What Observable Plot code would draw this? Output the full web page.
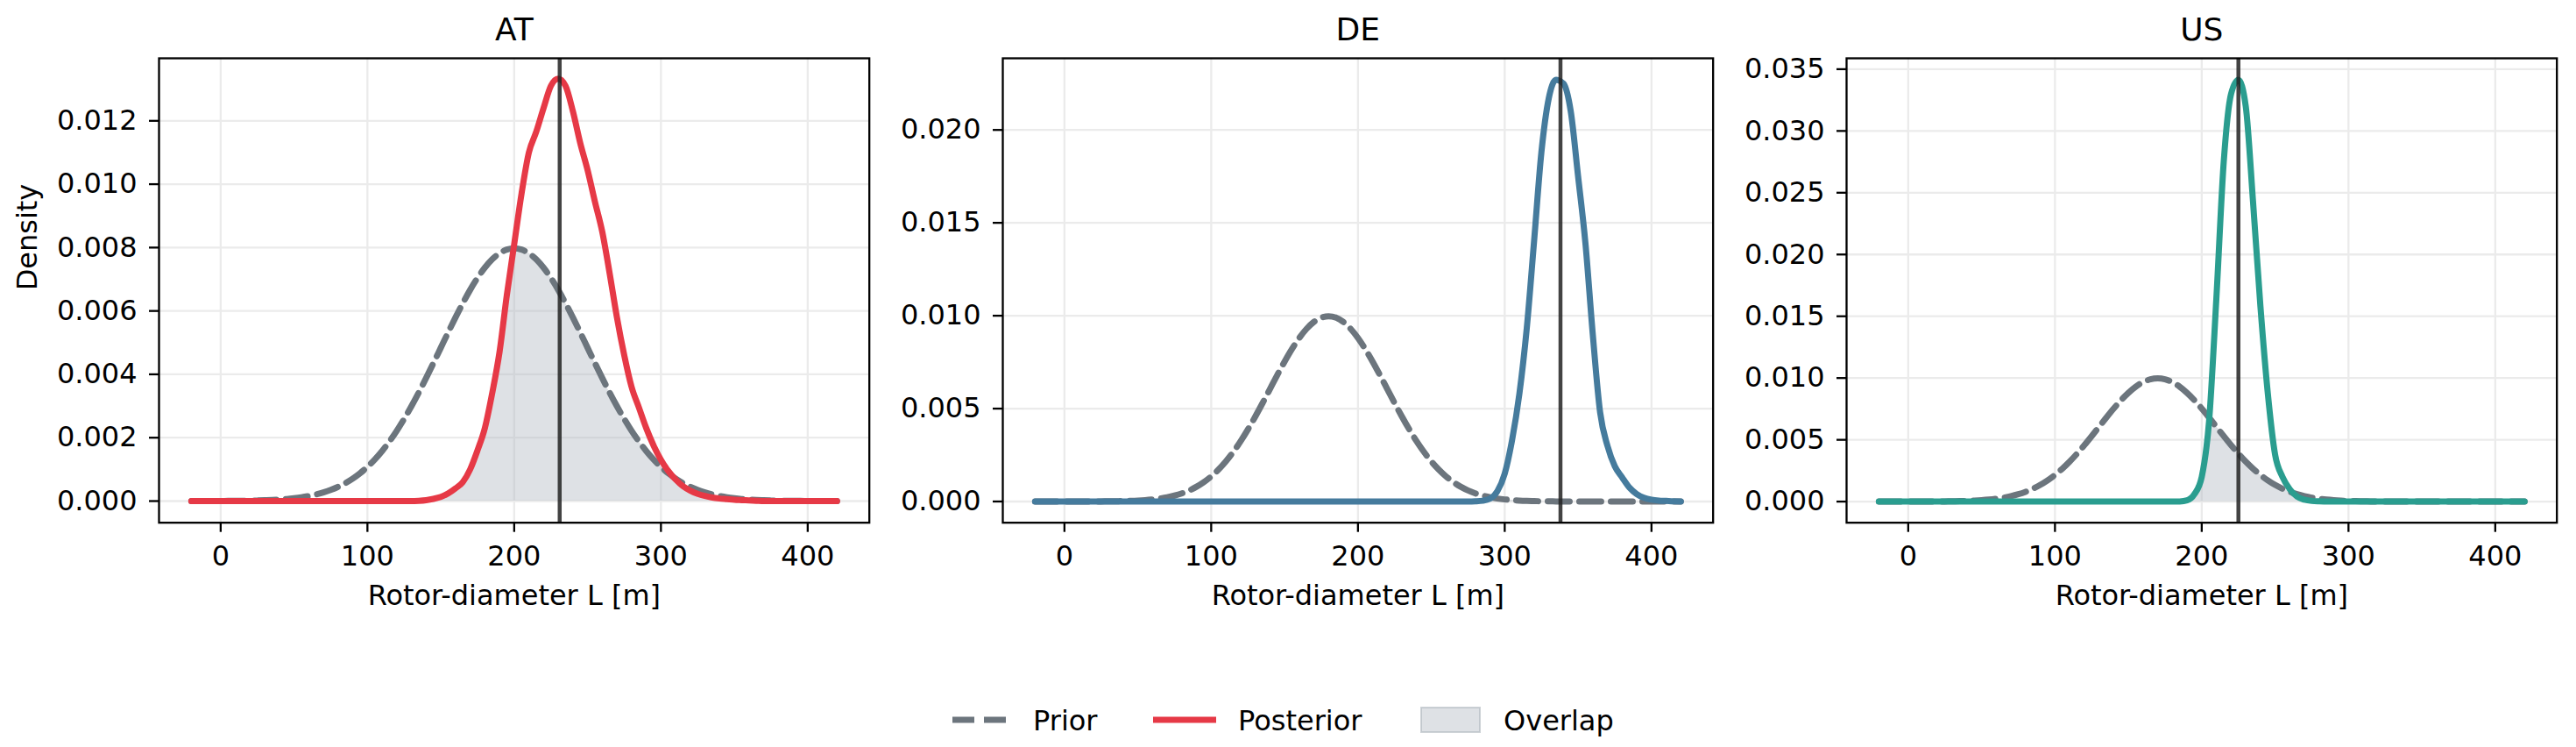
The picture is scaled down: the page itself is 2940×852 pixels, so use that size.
<!DOCTYPE html>
<html><head><meta charset="utf-8">
<script src="https://cdn.jsdelivr.net/npm/d3@7"></script>
<script src="https://cdn.jsdelivr.net/npm/@observablehq/plot@0.6"></script>
<style>
html,body{margin:0;padding:0;background:#fff;}
#wrap{position:relative;width:2940px;height:852px;overflow:hidden;font-family:"DejaVu Sans";background:#fff;}
.panel{position:absolute;top:0;}
#legend{position:absolute;left:0;top:760px;}
</style></head><body><div id="wrap"></div>
<script>
// sample grid (rotor diameter, m)
const xs = [-20,-15,-10,-5,0,5,10,15,20,25,30,35,40,45,50,55,60,65,70,75,80,85,90,95,100,105,110,115,120,125,130,135,140,145,150,155,160,165,170,175,180,185,190,195,200,205,210,215,220,225,230,235,240,245,250,255,260,265,270,275,280,285,290,295,300,305,310,315,320,325,330,335,340,345,350,355,360,365,370,375,380,385,390,395,400,405,410,415,420];

const countries = ["AT", "DE", "US"];
const xTicks = [0, 100, 200, 300, 400];
const yTicksAT = [0, 0.002, 0.004, 0.006, 0.008, 0.010, 0.012];
const yTicksDE = [0, 0.005, 0.010, 0.015, 0.020];
const yTicksUS = [0, 0.005, 0.010, 0.015, 0.020, 0.025, 0.030, 0.035];
const truthValues = [231, 338, 225];

const priorAT = [0.000001,0.000001,0.000001,0.000002,0.000003,0.000004,0.000006,0.000008,0.000012,0.000017,0.000025,0.000034,0.000048,0.000065,0.000089,0.000119,0.000158,0.000208,0.000271,0.000351,0.000448,0.000567,0.000709,0.000880,0.001080,0.001313,0.001579,0.001881,0.002218,0.002591,0.002995,0.003428,0.003884,0.004357,0.004839,0.005322,0.005794,0.006245,0.006665,0.007041,0.007366,0.007628,0.007821,0.007939,0.007979,
0.007939,0.007821,0.007628,0.007366,0.007041,0.006665,0.006245,0.005794,0.005322,0.004839,0.004357,0.003884,0.003428,0.002995,0.002591,0.002218,0.001881,0.001579,0.001313,0.001080,0.000880,0.000709,0.000567,0.000448,0.000351,0.000271,0.000208,0.000158,0.000119,0.000089,0.000065,0.000048,0.000034,0.000025,0.000017,0.000012,0.000008,0.000006,0.000004,0.000003,0.000002,0.000001,0.000001,0.000001];

const postAT = [0,0,0,0,0,0,0,0,0,0,0,0,0,0,0,0,0,0,0,0,0,0,0,0,0,0,0,0,0,0,0,
0.00001,0.00003,0.00007,0.00013,0.00024,0.00040,0.00060,0.00100,0.00160,0.00230,0.00340,0.00470,0.00650,0.00810,0.00970,0.01100,0.01165,0.01240,0.01310,0.01333,0.01310,0.01230,0.01130,0.01045,0.00945,0.00850,0.00720,0.00580,0.00460,0.00360,0.00295,0.00230,0.00175,0.00130,0.00095,0.00068,0.00047,0.00033,0.00023,0.00016,0.00011,0.00008,0.00006,0.00004,0.00003,0.00002,0.00001,
0,0,0,0,0,0,0,0,0,0,0];

const priorDE = [0,0,0,0,0,0.000001,0.000001,0.000002,0.000003,0.000005,0.000009,0.000014,0.000022,0.000034,0.000051,0.000076,0.000111,0.000160,0.000227,0.000318,0.000438,0.000594,0.000794,0.001043,0.001350,0.001720,0.002157,0.002664,0.003238,0.003876,0.004566,0.005297,0.006050,0.006802,0.007529,0.008204,0.008802,0.009297,0.009667,0.009896,0.009974,
0.009896,0.009667,0.009297,0.008802,0.008204,0.007529,0.006802,0.006050,0.005297,0.004566,0.003876,0.003238,0.002664,0.002157,0.001720,0.001350,0.001043,0.000794,0.000594,0.000438,0.000318,0.000227,0.000160,0.000111,0.000076,0.000051,0.000034,0.000022,0.000014,0.000009,0.000005,0.000003,0.000002,0.000001,0.000001,
0,0,0,0,0,0,0,0,0,0,0,0,0];

const postDE = [0,0,0,0,0,0,0,0,0,0,0,0,0,0,0,0,0,0,0,0,0,0,0,0,0,0,0,0,0,0,0,0,0,0,0,0,0,0,0,0,0,0,0,0,0,0,0,0,0,0,0,0,0,0,0,0,0,0,0,0,
0.00001,0.00004,0.00015,0.00055,0.00150,0.00330,0.00580,0.00930,0.01400,0.01880,0.02170,0.02270,0.02250,0.02100,0.01750,0.01390,0.00900,0.00480,0.00300,0.00190,0.00130,0.00075,0.00040,0.00020,0.00010,0.00005,0.00003,0.00001,0];

const priorUS = [0,0,0,0.000001,0.000001,0.000002,0.000003,0.000005,0.000009,0.000014,0.000022,0.000034,0.000051,0.000076,0.000111,0.000160,0.000227,0.000318,0.000438,0.000594,0.000794,0.001043,0.001350,0.001720,0.002157,0.002664,0.003238,0.003876,0.004566,0.005297,0.006050,0.006802,0.007529,0.008204,0.008802,0.009297,0.009667,0.009896,0.009974,
0.009896,0.009667,0.009297,0.008802,0.008204,0.007529,0.006802,0.006050,0.005297,0.004566,0.003876,0.003238,0.002664,0.002157,0.001720,0.001350,0.001043,0.000794,0.000594,0.000438,0.000318,0.000227,0.000160,0.000111,0.000076,0.000051,0.000034,0.000022,0.000014,0.000009,0.000005,0.000003,0.000002,0.000001,0.000001,
0,0,0,0,0,0,0,0,0,0,0,0,0,0,0];

const postUS = [0,0,0,0,0,0,0,0,0,0,0,0,0,0,0,0,0,0,0,0,0,0,0,0,0,0,0,0,0,0,0,0,0,0,0,0,0,0,0,0,0,
0.00001,0.00010,0.00060,0.00200,0.00650,0.01650,0.02750,0.03300,0.03415,0.03200,0.02420,0.01580,0.00880,0.00380,0.00200,0.00100,0.00040,0.00015,0.00005,0.00002,0.00001,
0,0,0,0,0,0,0,0,0,0,0,0,0,0,0,0,0,0,0,0,0,0,0,0,0,0,0];

const priors = [priorAT, priorDE, priorUS];
const posteriors = [postAT, postDE, postUS];
const yTicksAll = [yTicksAT, yTicksDE, yTicksUS];
const colors = ["#e63946", "#457b9d", "#2a9d8f"];
const yDomains = [[-0.000683, 0.013973], [-0.001142, 0.023856], [-0.00171, 0.03588]];

[...priors, ...posteriors].forEach((a, i) => { if (a.length !== xs.length) throw new Error("length mismatch " + i + ": " + a.length); });

const wrap = document.getElementById("wrap");
const frameW = 810.7, frameLefts = [181, 1143.7, 2107];
const priorColor = "#6c757d", gridColor = "#ebebeb";

countries.forEach((name, k) => {
  const ml = k === 0 ? 181 : 150;
  const mr = 8;
  const data = xs.map((x, i) => ({x, prior: priors[k][i], post: posteriors[k][i], ov: Math.min(priors[k][i], posteriors[k][i])}));
  const yt = yTicksAll[k];
  const chart = Plot.plot({
    width: ml + frameW + mr, height: 720,
    marginLeft: ml, marginRight: mr, marginTop: 66, marginBottom: 720 - 595.7,
    style: {fontFamily: "DejaVu Sans", fontSize: "32px", color: "black", background: "transparent", overflow: "visible", maxWidth: "none"},
    x: {domain: [-42, 442]},
    y: {domain: yDomains[k]},
    marks: [
      Plot.gridX(xTicks, {stroke: gridColor, strokeOpacity: 1, strokeWidth: 2.3}),
      Plot.gridY(yt, {stroke: gridColor, strokeOpacity: 1, strokeWidth: 2.3}),
      Plot.areaY(data, {x: "x", y: "ov", fill: "#adb5bd", fillOpacity: 0.4, curve: "monotone-x"}),
      Plot.line(data, {x: "x", y: "prior", stroke: priorColor, strokeWidth: 7, strokeDasharray: "25,11", curve: "monotone-x"}),
      Plot.line(data, {x: "x", y: "post", stroke: colors[k], strokeWidth: 7, curve: "monotone-x"}),
      Plot.ruleX([truthValues[k]], {stroke: "#222", strokeOpacity: 0.85, strokeWidth: 4.5}),
      Plot.frame({stroke: "black", strokeWidth: 2.3}),
      Plot.axisX(xTicks, {tickSize: 11, tickPadding: 15, fontSize: 32, strokeWidth: 2.3, label: null}),
      Plot.axisY(yt, {tickSize: 11, tickPadding: 14, fontSize: 32, strokeWidth: 2.3, label: null, tickFormat: d3.format(".3f")}),
      Plot.text([name], {text: d => d, frameAnchor: "top", dy: -32.5, fontSize: 36, lineAnchor: "middle"}),
      Plot.text(["Rotor-diameter L [m]"], {text: d => d, frameAnchor: "bottom", dy: 84, fontSize: 32, lineAnchor: "middle"}),
      k === 0 ? Plot.text(["Density"], {text: d => d, frameAnchor: "left", dx: -150, rotate: -90, fontSize: 32, lineAnchor: "middle"}) : null
    ]
  });
  const div = document.createElement("div");
  div.className = "panel";
  div.style.left = (frameLefts[k] - ml) + "px";
  div.style.width = (ml + frameW + mr) + "px";
  div.appendChild(chart);
  wrap.appendChild(div);
});

// legend
const legendItems = ["Prior", "Posterior", "Overlap"];
const leg = d3.select(wrap).append("svg").attr("id", "legend").attr("width", 2940).attr("height", 92)
  .style("font-family", "DejaVu Sans").style("font-size", "32px");
const ly = 61;
leg.append("line").attr("x1", 1087).attr("x2", 1159).attr("y1", ly).attr("y2", ly)
  .attr("stroke", priorColor).attr("stroke-width", 7).attr("stroke-dasharray", "25,11");
leg.append("text").attr("x", 1179).attr("y", ly + 11.5).text(legendItems[0]);
leg.append("line").attr("x1", 1316).attr("x2", 1388).attr("y1", ly).attr("y2", ly)
  .attr("stroke", colors[0]).attr("stroke-width", 7);
leg.append("text").attr("x", 1413).attr("y", ly + 11.5).text(legendItems[1]);
leg.append("rect").attr("x", 1622).attr("y", ly - 14).attr("width", 67).attr("height", 28)
  .attr("fill", "#adb5bd").attr("fill-opacity", 0.4).attr("stroke", "#adb5bd").attr("stroke-opacity", 0.6).attr("stroke-width", 2);
leg.append("text").attr("x", 1716).attr("y", ly + 11.5).text(legendItems[2]);
</script></body></html>
